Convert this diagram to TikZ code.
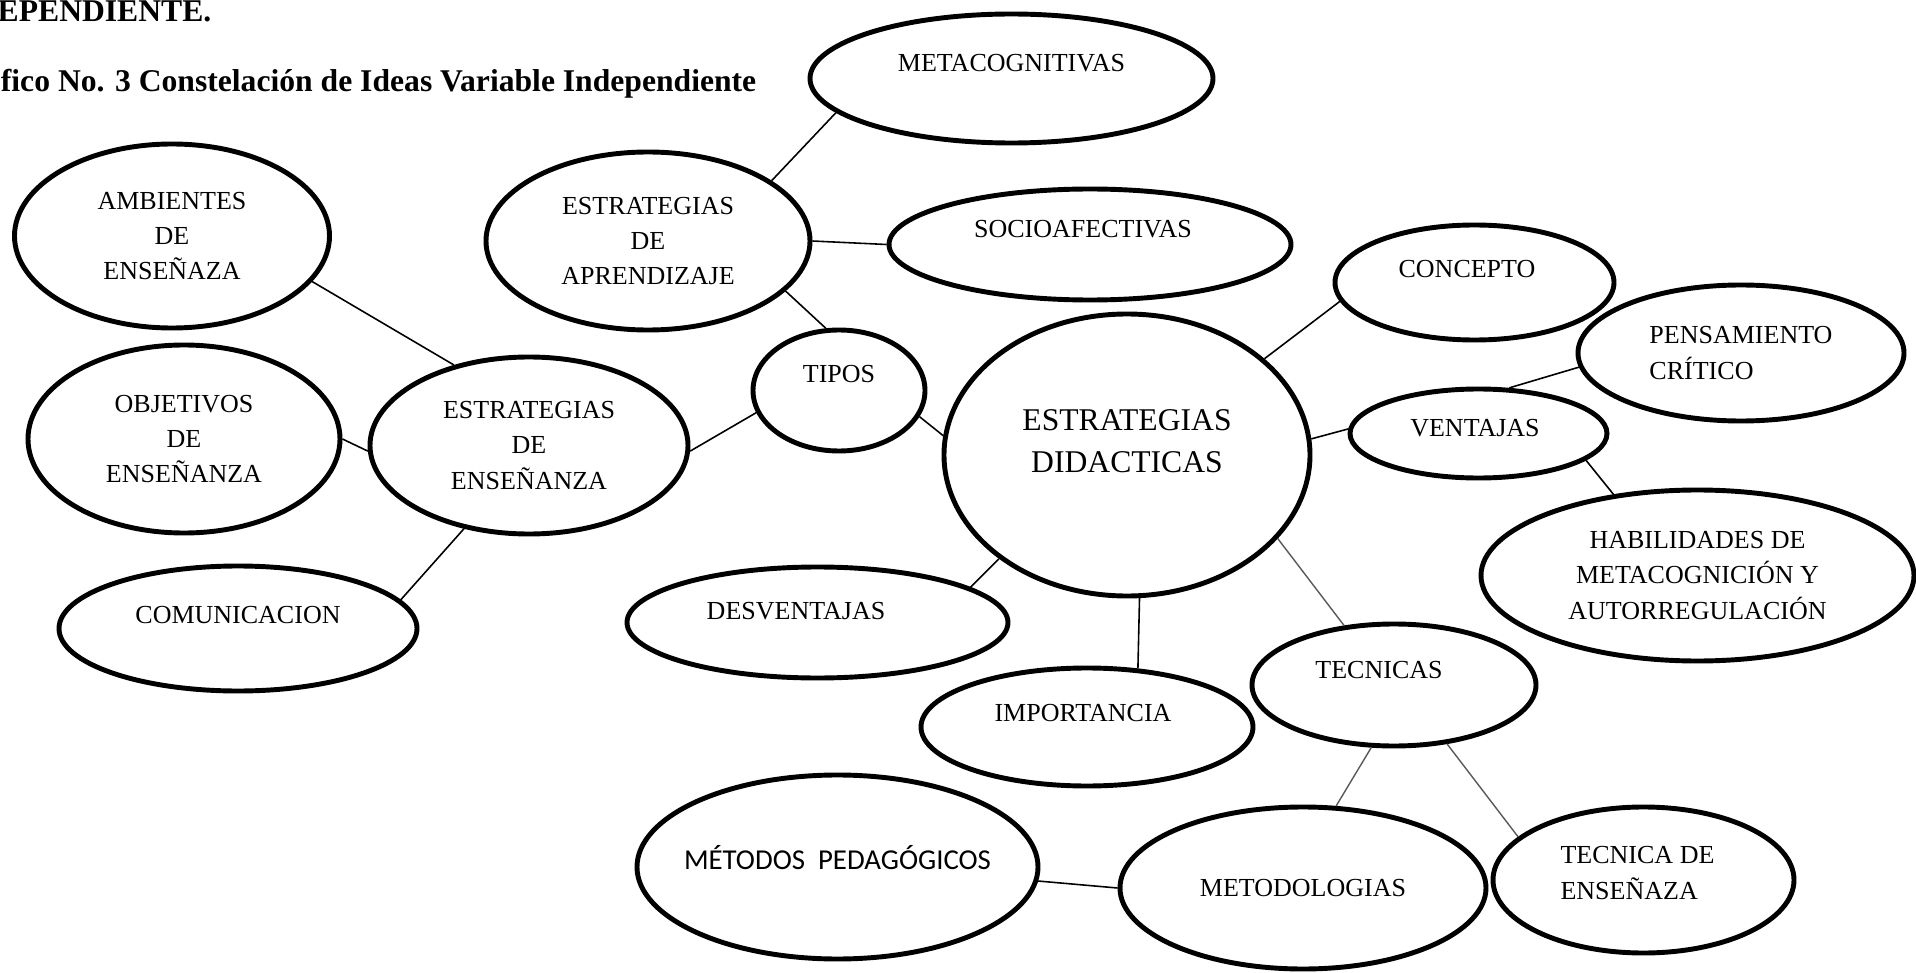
\documentclass[tikz,border=0pt]{standalone}
\usepackage{fontspec}
\setmainfont{Liberation Serif}
\newfontfamily\carlito{Carlito}
\usetikzlibrary{shapes.geometric}

\begin{document}
\begin{tikzpicture}[y=-1cm,
  idea/.style={ellipse, draw, line width=1.4pt, inner sep=0pt, align=center,
    font=\fontsize{7.4}{10}\selectfont},
  every label/.style={inner sep=0pt, align=center, font=\fontsize{7.4}{10}\selectfont},
  title/.style={anchor=base east, inner sep=0pt, font=\bfseries\fontsize{9}{11}\selectfont},
  link/.style={line width=0.45pt},
  glink/.style={line width=0.4pt, black!65}]
\useasboundingbox (0,0) rectangle (19.16,9.73);
\node[title] (t1) at (2.12,0.215) {EPENDIENTE.};
\node[title] (t2) at (7.57,0.92) {fico No. 3 Constelación de Ideas Variable Independiente};

\node[idea, minimum width=4.03cm, minimum height=1.29cm, label={[yshift=0.15cm]center:METACOGNITIVAS}] (meta) at (10.115,0.785) {};
\node[idea, minimum width=3.24cm, minimum height=1.78cm] (aprend) at (6.48,2.41) {ESTRATEGIAS\\DE\\APRENDIZAJE};
\node[idea, minimum width=4.02cm, minimum height=1.11cm, label={[xshift=-0.07cm,yshift=0.15cm]center:SOCIOAFECTIVAS}] (socio) at (10.90,2.445) {};
\node[idea, minimum width=3.15cm, minimum height=1.84cm] (amb) at (1.72,2.36) {AMBIENTES\\DE\\ENSEÑAZA};
\node[idea, minimum width=3.12cm, minimum height=1.88cm] (obj) at (1.84,4.39) {OBJETIVOS\\DE\\ENSEÑANZA};
\node[idea, minimum width=3.18cm, minimum height=1.77cm] (ense) at (5.29,4.455) {ESTRATEGIAS\\DE\\ENSEÑANZA};
\node[idea, minimum width=3.58cm, minimum height=1.25cm, label={[yshift=0.135cm]center:COMUNICACION}] (comu) at (2.38,6.285) {};
\node[idea, minimum width=1.72cm, minimum height=1.21cm, label={[yshift=0.16cm]center:TIPOS}] (tipos) at (8.39,3.905) {};
\node[idea, minimum width=3.66cm, minimum height=2.82cm, label={[yshift=0.14cm,font=\fontsize{9}{11.9}\selectfont]center:ESTRATEGIAS\\DIDACTICAS}] (didac) at (11.27,4.55) {};
\node[idea, minimum width=2.79cm, minimum height=1.15cm, label={[xshift=-0.075cm,yshift=0.135cm]center:CONCEPTO}] (conc) at (14.745,2.825) {};
\node[idea, minimum width=2.57cm, minimum height=0.89cm, label={[xshift=-0.035cm,yshift=0.055cm]center:VENTAJAS}] (vent) at (14.785,4.335) {};
\node[idea, minimum width=3.26cm, minimum height=1.36cm, align=left] (pens) at (17.41,3.53) {PENSAMIENTO\\CRÍTICO};
\node[idea, minimum width=4.33cm, minimum height=1.71cm] (habi) at (16.975,5.755) {HABILIDADES DE\\METACOGNICIÓN Y\\AUTORREGULACIÓN};
\node[idea, minimum width=3.81cm, minimum height=1.11cm, label={[xshift=-0.215cm,yshift=0.115cm]center:DESVENTAJAS}] (desv) at (8.175,6.225) {};
\node[idea, minimum width=3.32cm, minimum height=1.18cm, label={[xshift=-0.04cm,yshift=0.14cm]center:IMPORTANCIA}] (impo) at (10.87,7.27) {};
\node[idea, minimum width=2.84cm, minimum height=1.22cm, label={[xshift=-0.15cm,yshift=0.15cm]center:TECNICAS}] (tecs) at (13.94,6.85) {};
\node[idea, minimum width=4.01cm, minimum height=1.84cm, label={[yshift=0.09cm,font=\carlito\fontsize{8.2}{10}\selectfont]center:MÉTODOS\ \ PEDAGÓGICOS}] (meto) at (8.375,8.67) {};
\node[idea, minimum width=3.66cm, minimum height=1.62cm] (metod) at (13.03,8.88) {METODOLOGIAS};
\node[idea, minimum width=3.01cm, minimum height=1.46cm, label={[xshift=-0.06cm,yshift=0.07cm,align=left]center:TECNICA DE\\ENSEÑAZA}] (tecn) at (16.435,8.80) {};

\draw[link] (meta.191) -- (aprend.26);
\draw[link] (aprend.0) -- (socio.180);
\draw[link] (aprend.340) -- (tipos.102);
\draw[link] (amb.342) -- (ense.133);
\draw[link] (obj.0) -- (ense.182);
\draw[link] (comu.10) -- (ense.232);
\draw[link] (ense.358) -- (tipos.195);
\draw[link] (tipos.342) -- (didac.174);
\draw[link] (didac.35) -- (conc.188);
\draw[link] (didac.5) -- (vent.178);
\draw[link] (vent.56) -- (pens.185);
\draw[link] (vent.346) -- (habi.136);
\draw[link] (didac.219) -- (desv.13);
\draw[link] (didac.275) -- (impo.49);
\draw[glink] (didac.331) -- (tecs.130);
\draw[glink] (tecs.250) -- (metod.68);
\draw[glink] (tecs.312) -- (tecn.161);
\draw[link] (meto.356) -- (metod.180);
\end{tikzpicture}
\end{document}
